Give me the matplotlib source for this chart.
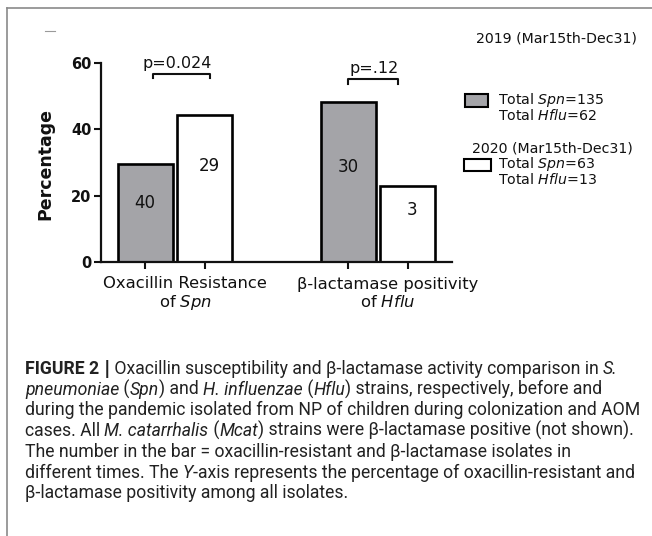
import matplotlib
matplotlib.use('Agg')
import matplotlib.pyplot as plt
from matplotlib.patches import Rectangle
from matplotlib.lines import Line2D

W, H = 652, 536

# -------- Data --------
categories = ['Oxacillin Resistance\nof $\\it{Spn}$', 'β-lactamase positivity\nof $\\it{Hflu}$']
pct_2019 = [29.6, 48.3]
pct_2020 = [44.3, 22.8]
n_2019 = [40, 30]
n_2020 = [29, 3]
p_values = ['p=0.024', 'p=.12']
legend_title_2019 = '2019 (Mar15th-Dec31)'
legend_title_2020 = '2020 (Mar15th-Dec31)'
legend_2019 = ['Total $\\it{Spn}$=135', 'Total $\\it{Hflu}$=62']
legend_2020 = ['Total $\\it{Spn}$=63', 'Total $\\it{Hflu}$=13']
y_ticks = [0, 20, 40, 60]

N, I, B, S = 'normal', 'italic', 'bold', 'sep'
caption = [
    [('FIGURE 2 ', B), ('|', S), (' Oxacillin susceptibility and β-lactamase activity comparison in ', N),
     ('S.', I)],
    [('pneumoniae', I), (' (', N), ('Spn', I), (') and ', N), ('H. influenzae', I), (' (', N),
     ('Hflu', I), (') strains, respectively, before and', N)],
    [('during the pandemic isolated from NP of children during colonization and AOM', N)],
    [('cases. All ', N), ('M. catarrhalis', I), (' (', N), ('Mcat', I),
     (') strains were β-lactamase positive (not shown).', N)],
    [('The number in the bar = oxacillin-resistant and β-lactamase isolates in', N)],
    [('different times. The ', N), ('Y', I), ('-axis represents the percentage of oxacillin-resistant and', N)],
    [('β-lactamase positivity among all isolates.', N)],
]

GRAY = '#a4a4a8'
INK = '#111111'


def fx(x):
    return x / W


def fy(y):
    return 1 - y / H


fig = plt.figure(figsize=(W / 100, H / 100), dpi=100)

# frame around figure + caption
fig.add_artist(Line2D([fx(7), fx(7)], [fy(8), fy(H + 5)], color='#8a8a8a', lw=1.2))
fig.add_artist(Line2D([fx(7), fx(W + 5)], [fy(8), fy(8)], color='#8a8a8a', lw=1.2))
fig.add_artist(Line2D([fx(45), fx(55)], [fy(31), fy(31)], color='#9a9a9a', lw=0.8))

# -------- Bar chart --------
ax = fig.add_axes([fx(101), fy(262), (452 - 101) / W, (262 - 63) / H])
off, bw = 0.147, 0.27
xg = [0, 1]
x1 = [g - off for g in xg]
x2 = [g + off for g in xg]
ax.bar(x1, pct_2019, width=bw, color=GRAY, edgecolor='black', linewidth=1.9)
ax.bar(x2, pct_2020, width=bw, color='white', edgecolor='black', linewidth=1.9)

frac_2019 = [0.60, 0.595]
frac_2020 = [0.655, 0.69]
for x, v, n, f in zip(x1, pct_2019, n_2019, frac_2019):
    ax.text(x, v * f, str(n), ha='center', va='center', fontsize=12, color=INK)
for x, v, n, f in zip(x2, pct_2020, n_2020, frac_2020):
    ax.text(x + 0.02, v * f, str(n), ha='center', va='center', fontsize=12, color=INK)

# significance brackets
spans = [(-0.11, 0.17), (-0.15, 0.10)]
levels = [56.7, 55.1]
text_x = [0.01, -0.02]
for g, (a, b), lv, tx, p in zip(xg, spans, levels, text_x, p_values):
    ax.plot([g + a, g + a, g + b, g + b], [lv - 1.3, lv, lv, lv - 1.3], color=INK, lw=1.5,
            clip_on=False)
    ax.text(g + tx, lv + 3.2, p, ha='center', va='center', fontsize=11.5, color=INK, clip_on=False)

ax.set_xlim(-0.365, 1.365)
ax.set_ylim(0, 60)
ax.set_yticks(y_ticks)
ax.set_yticklabels([str(t) for t in y_ticks], fontsize=10.5, fontweight='bold', color=INK)
ax.set_xticks(x1 + x2)
ax.set_xticklabels([])
ax.tick_params(axis='both', direction='out', length=5, width=1.5, color=INK, pad=2)
for s in ['top', 'right']:
    ax.spines[s].set_visible(False)
for s in ['left', 'bottom']:
    ax.spines[s].set_linewidth(1.6)
    ax.spines[s].set_color(INK)

for g, lab in zip(xg, categories):
    for k, line in enumerate(lab.split('\n')):
        y = (262 - (284 + 18 * k)) / (262 - 63)
        ax.text(g + 0.05, y, line, transform=ax.get_xaxis_transform(), ha='center',
                va='center', fontsize=11.8, color=INK)
fig.text(fx(45), fy(164), 'Percentage', rotation=90, ha='center', va='center',
         fontsize=12.5, fontweight='bold', color=INK)

# -------- Legend --------
fig.text(fx(476), fy(38), legend_title_2019, ha='left', va='center', fontsize=10.2, color=INK)
fig.add_artist(Rectangle((fx(465), fy(107)), (488 - 465) / W, 13 / H, facecolor=GRAY,
                         edgecolor='black', lw=1.5))
for k, t in enumerate(legend_2019):
    fig.text(fx(498), fy(100 + 15.5 * k), t, ha='left', va='center', fontsize=10.2, color=INK)
fig.text(fx(472), fy(148), legend_title_2020, ha='left', va='center', fontsize=10.2, color=INK)
fig.add_artist(Rectangle((fx(464), fy(171)), (491 - 464) / W, 12 / H, facecolor='white',
                         edgecolor='black', lw=1.5))
for k, t in enumerate(legend_2020):
    fig.text(fx(498), fy(164 + 16 * k), t, ha='left', va='center', fontsize=10.2, color=INK)

# -------- Caption --------
renderer = fig.canvas.get_renderer()
cap_size = 12.7


def run_width(txt, **kw):
    a = fig.text(0, 0, 'a' + txt + 'a', **kw)
    b = fig.text(0, 0, 'aa', **kw)
    w = a.get_window_extent(renderer).width - b.get_window_extent(renderer).width
    a.remove()
    b.remove()
    return w


for row, runs in enumerate(caption):
    x = 25
    y = 374 + 20.7 * row
    for txt, st in runs:
        kw = dict(fontsize=cap_size, family='Roboto', color='#222222',
                  fontweight='bold' if st in (B, S) else 'normal',
                  fontstyle='italic' if st == I else 'normal')
        if st == S:
            kw['family'] = 'DejaVu Sans'
        fig.text(fx(x), fy(y), txt, ha='left', va='baseline', **kw)
        x += run_width(txt, **kw)

fig.savefig('out.png', dpi=100)
